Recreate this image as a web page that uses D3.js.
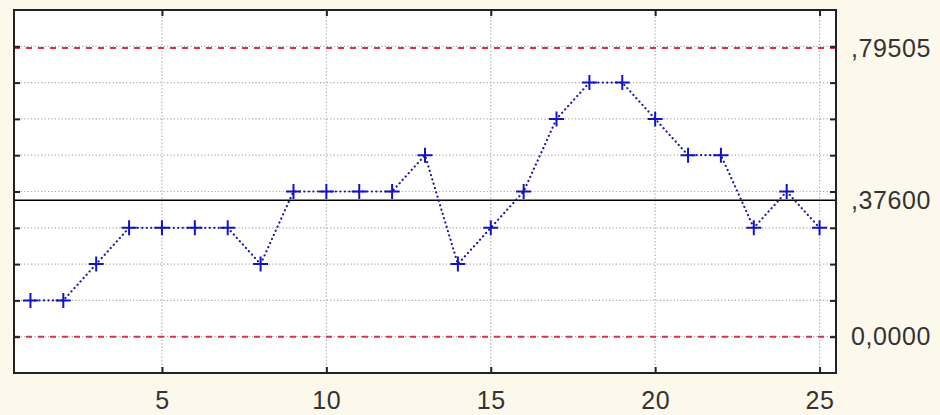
<!DOCTYPE html>
<html>
<head>
<meta charset="utf-8">
<script src="https://cdn.jsdelivr.net/npm/d3@7"></script>
<style>
  body { margin: 0; background: #fdf8ec; }
  svg { display: block; }
  .lbl text { font-family: "Liberation Sans", Arial, sans-serif; font-size: 25px; fill: #333; letter-spacing: 0.6px; }
</style>
</head>
<body>
<svg id="chart" width="940" height="415"></svg>
<script>
// sample number and proportion per sample
var samples = d3.range(1, 26);
var proportions = [0.1, 0.1, 0.2, 0.3, 0.3, 0.3, 0.3, 0.2, 0.4, 0.4, 0.4, 0.4, 0.5,
                   0.2, 0.3, 0.4, 0.6, 0.7, 0.7, 0.6, 0.5, 0.5, 0.3, 0.4, 0.3];

// control limits
var centerLine = 0.376;
var upperLimit = 0.79505;
var lowerLimit = 0;

var xTicks = [5, 10, 15, 20, 25];
var yGrid = [0, 0.1, 0.2, 0.3, 0.4, 0.5, 0.6, 0.7, 0.8];
var limitValues = [lowerLimit, centerLine, upperLimit];
var limitLabels = ["0,0000", ",37600", ",79505"];

var svg = d3.select("#chart"),
    plotLeft = 14, plotRight = 836, plotTop = 10, plotBottom = 373;

var x = d3.scaleLinear().domain([0.5, 25.5]).range([plotLeft, plotRight]);
var y = d3.scaleLinear().domain([-0.1, 0.9]).range([plotBottom, plotTop]);

svg.append("rect")
    .attr("x", plotLeft).attr("y", plotTop)
    .attr("width", plotRight - plotLeft).attr("height", plotBottom - plotTop)
    .attr("fill", "#fff");

// grid
svg.append("g").selectAll("line")
  .data(yGrid)
  .enter().append("line")
    .attr("x1", plotLeft).attr("x2", plotRight)
    .attr("y1", function(d) { return y(d); }).attr("y2", function(d) { return y(d); })
    .attr("stroke", "#aaa").attr("stroke-width", 1.2).attr("stroke-dasharray", "1.2,2.2");

svg.append("g").selectAll("line")
  .data(xTicks)
  .enter().append("line")
    .attr("x1", function(d) { return x(d); }).attr("x2", function(d) { return x(d); })
    .attr("y1", plotTop).attr("y2", plotBottom)
    .attr("stroke", "#aaa").attr("stroke-width", 1.2).attr("stroke-dasharray", "1.2,2.2");

// limits
svg.append("g").selectAll("line")
  .data([lowerLimit, upperLimit])
  .enter().append("line")
    .attr("x1", plotLeft).attr("x2", plotRight)
    .attr("y1", function(d) { return y(d); }).attr("y2", function(d) { return y(d); })
    .attr("stroke", "#d5344a").attr("stroke-width", 2).attr("stroke-dasharray", "6,6");

svg.append("line")
    .attr("x1", plotLeft).attr("x2", plotRight)
    .attr("y1", y(centerLine)).attr("y2", y(centerLine))
    .attr("stroke", "#000").attr("stroke-width", 1.6);

// series
var line = d3.line()
    .x(function(d, i) { return x(samples[i]); })
    .y(function(d) { return y(d); });

svg.append("path")
    .datum(proportions)
    .attr("d", line)
    .attr("fill", "none")
    .attr("stroke", "#1a1a9a")
    .attr("stroke-width", 2.2)
    .attr("stroke-linecap", "round")
    .attr("stroke-dasharray", "0.1,4.4");

svg.append("g").selectAll("path")
  .data(proportions)
  .enter().append("path")
    .attr("transform", function(d, i) { return "translate(" + x(samples[i]) + "," + y(d) + ")"; })
    .attr("d", "M-7.5,0H7.5M0,-7.5V7.5")
    .attr("stroke", "#1212c8")
    .attr("stroke-width", 2);

// frame + inner ticks
function noText(g) { g.selectAll("text").remove(); g.select(".domain").remove(); }

svg.append("g").attr("transform", "translate(0," + plotBottom + ")")
    .call(d3.axisBottom(x).tickValues(xTicks).tickSizeInner(-6).tickSizeOuter(0).tickFormat(""))
    .call(noText).selectAll("line").attr("stroke", "#222").attr("stroke-width", 2);
svg.append("g").attr("transform", "translate(0," + plotTop + ")")
    .call(d3.axisTop(x).tickValues(xTicks).tickSizeInner(-6).tickSizeOuter(0).tickFormat(""))
    .call(noText).selectAll("line").attr("stroke", "#222").attr("stroke-width", 2);
svg.append("g").attr("transform", "translate(" + plotLeft + ",0)")
    .call(d3.axisLeft(y).tickValues(yGrid).tickSizeInner(-6).tickSizeOuter(0).tickFormat(""))
    .call(noText).selectAll("line").attr("stroke", "#222").attr("stroke-width", 2);
svg.append("g").attr("transform", "translate(" + plotRight + ",0)")
    .call(d3.axisRight(y).tickValues(yGrid).tickSizeInner(-6).tickSizeOuter(0).tickFormat(""))
    .call(noText).selectAll("line").attr("stroke", "#222").attr("stroke-width", 2);

svg.append("rect")
    .attr("x", plotLeft).attr("y", plotTop)
    .attr("width", plotRight - plotLeft).attr("height", plotBottom - plotTop)
    .attr("fill", "none").attr("stroke", "#222").attr("stroke-width", 2);

// labels
var xAxis = svg.append("g").attr("class", "lbl")
    .attr("transform", "translate(0," + plotBottom + ")")
    .call(d3.axisBottom(x).tickValues(xTicks).tickSize(0).tickPadding(18));
xAxis.select(".domain").remove();

var yAxis = svg.append("g").attr("class", "lbl")
    .attr("transform", "translate(" + plotRight + ",0)")
    .call(d3.axisRight(y).tickValues(limitValues).tickSize(0).tickPadding(15)
      .tickFormat(function(d, i) { return limitLabels[i]; }));
yAxis.select(".domain").remove();
</script>
</body>
</html>
